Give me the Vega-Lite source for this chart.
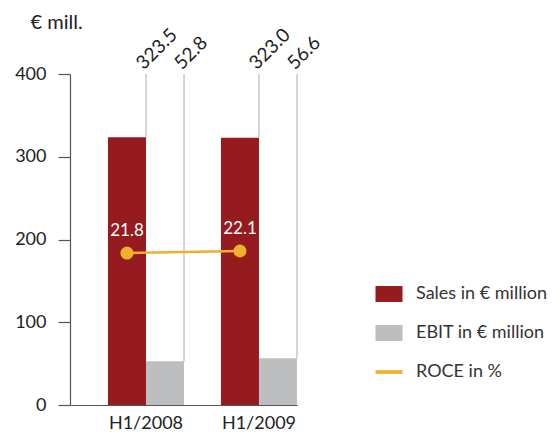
{
  "$schema": "https://vega.github.io/schema/vega-lite/v6.json",
  "width": 227,
  "height": 331,
  "autosize": {"type": "none"},
  "padding": {"left": 70, "top": 74, "right": 259, "bottom": 28},
  "config": {
    "view": {"stroke": null},
    "font": "Lato",
    "axis": {"labelFont": "Lato", "titleFont": "Lato", "labelColor": "#222", "titleColor": "#222", "domainColor": "#555", "tickColor": "#555", "domainWidth": 1.2, "tickWidth": 1.2}
  },
  "datasets": {
    "bars": [
      {"period": "H1/2008", "series": "Sales in € million", "value": 323.5},
      {"period": "H1/2008", "series": "EBIT in € million", "value": 52.8},
      {"period": "H1/2009", "series": "Sales in € million", "value": 323.0},
      {"period": "H1/2009", "series": "EBIT in € million", "value": 56.6}
    ],
    "roce": [
      {"period": "H1/2008", "roce": 21.8},
      {"period": "H1/2009", "roce": 22.1}
    ]
  },
  "layer": [
    {
      "data": {"name": "bars"},
      "layer": [
        {
          "mark": {"type": "bar"},
          "encoding": {
            "x": {"field": "period", "type": "nominal", "title": null,
              "scale": {"paddingInner": 0.327, "paddingOuter": 0.168, "align": 1},
              "axis": {"labelAngle": 0, "ticks": false, "labelPadding": 9, "labelFontSize": 18, "domainColor": "#555"}},
            "xOffset": {"field": "series", "type": "nominal", "sort": ["Sales in € million", "EBIT in € million"],
              "scale": {"domain": ["Sales in € million", "EBIT in € million"], "paddingInner": 0, "paddingOuter": 0}},
            "y": {"field": "value", "type": "quantitative", "scale": {"domain": [0, 400]},
              "axis": {"values": [0, 100, 200, 300, 400], "grid": false, "tickSize": 12, "labelPadding": 12, "labelFontSize": 18,
                "title": "€ mill.", "titleAngle": 0, "titleAlign": "left", "titleBaseline": "alphabetic", "titleX": -40, "titleY": -46, "titleFontSize": 20, "titleFontWeight": "normal"}},
            "color": {"field": "series", "type": "nominal",
              "scale": {"domain": ["Sales in € million", "EBIT in € million", "ROCE in %"], "range": ["#951b1e", "#bdbec0", "#efb02e"]},
              "legend": {"title": null, "orient": "none", "legendX": 310, "legendY": 211, "padding": 0,
                "symbolSize": 285, "symbolType": "M-1.6,-0.95H1.6V0.95H-1.6Z", "symbolStrokeWidth": 0,
                "labelFontSize": 18, "labelColor": "#333", "labelOffset": 18, "rowPadding": 21,
                "encode": {"symbols": {"update": {
                  "shape": {"signal": "datum.value === 'ROCE in %' ? 'M-1.6,-0.22H1.6V0.22H-1.6Z' : 'M-1.6,-0.95H1.6V0.95H-1.6Z'"},
                  "fill": {"signal": "datum.value === 'Sales in € million' ? '#951b1e' : datum.value === 'EBIT in € million' ? '#a9aaad' : '#efb02e'"},
                  "fillOpacity": {"value": 1},
                  "opacity": {"value": 1},
                  "strokeWidth": {"value": 0}
                }}}}}
          }
        },
        {
          "transform": [{"filter": "datum.series === 'Sales in € million'"}],
          "encoding": {
            "x": {"field": "period", "type": "nominal", "bandPosition": 0.5}
          },
          "layer": [
            {"mark": {"type": "rule", "color": "#c8c8c8", "strokeWidth": 1.5},
             "encoding": {"y": {"field": "value", "type": "quantitative"}, "y2": {"datum": 400}}},
            {"mark": {"type": "text", "angle": -45, "align": "left", "baseline": "middle", "dx": 1, "dy": -10, "fontSize": 19, "color": "#222"},
             "encoding": {"y": {"datum": 400, "type": "quantitative"}, "text": {"field": "value", "type": "quantitative", "format": ".1f"}}}
          ]
        },
        {
          "transform": [{"filter": "datum.series === 'EBIT in € million'"}],
          "encoding": {
            "x": {"field": "period", "type": "nominal", "bandPosition": 1}
          },
          "layer": [
            {"mark": {"type": "rule", "color": "#c8c8c8", "strokeWidth": 1.5},
             "encoding": {"y": {"field": "value", "type": "quantitative"}, "y2": {"datum": 400}}},
            {"mark": {"type": "text", "angle": -45, "align": "left", "baseline": "middle", "dx": 1, "dy": -10, "fontSize": 19, "color": "#222"},
             "encoding": {"y": {"datum": 400, "type": "quantitative"}, "text": {"field": "value", "type": "quantitative", "format": ".1f"}}}
          ]
        }
      ]
    },
    {
      "data": {"name": "roce"},
      "encoding": {
        "x": {"field": "period", "type": "nominal"},
        "xOffset": {"datum": "Sales in € million"},
        "y": {"field": "roce", "type": "quantitative", "scale": {"domain": [0, 47.5]}, "axis": null}
      },
      "layer": [
        {"mark": {"type": "line", "strokeWidth": 2.5}, "encoding": {"color": {"datum": "ROCE in %"}}},
        {"mark": {"type": "point", "filled": true, "size": 170, "opacity": 1}, "encoding": {"color": {"datum": "ROCE in %"}}},
        {"mark": {"type": "text", "baseline": "alphabetic", "dy": -17, "fontSize": 17, "color": "white"},
          "encoding": {"text": {"field": "roce", "type": "quantitative", "format": ".1f"}}}
      ]
    }
  ],
  "resolve": {"scale": {"y": "independent"}}
}
